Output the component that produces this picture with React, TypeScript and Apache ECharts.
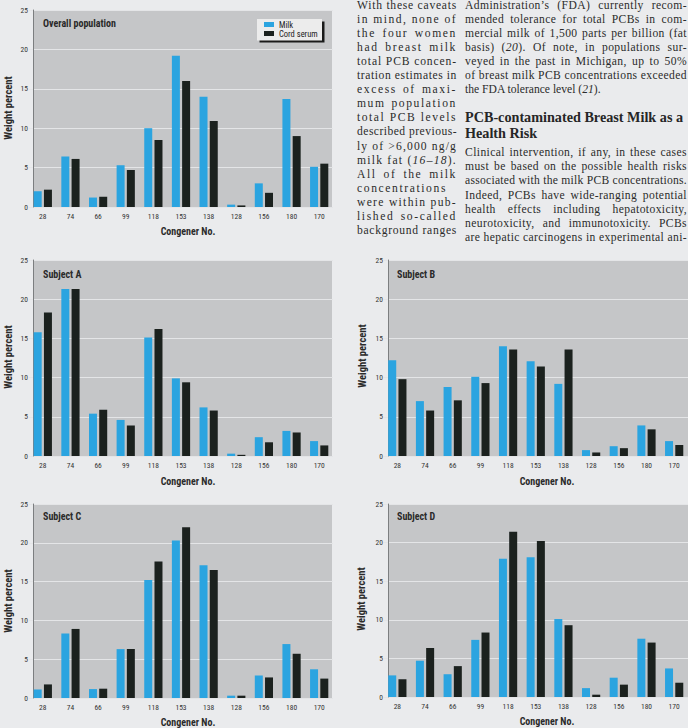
import React, { useEffect, useLayoutEffect, useRef } from "react";
import * as echarts from "echarts";

const categories = ["28", "74", "66", "99", "118", "153", "138", "128", "156", "180", "170"];
const overallMilk = [2.0, 6.4, 1.2, 5.3, 10.0, 19.2, 14.0, 0.3, 3.0, 13.7, 5.1];
const overallCord = [2.2, 6.1, 1.3, 4.7, 8.5, 16.0, 10.9, 0.2, 1.8, 9.0, 5.5];
const subjectAMilk = [15.8, 21.3, 5.4, 4.6, 15.1, 9.9, 6.2, 0.3, 2.4, 3.2, 1.9];
const subjectACord = [18.3, 21.3, 5.9, 3.9, 16.2, 9.4, 5.8, 0.15, 1.75, 3.0, 1.35];
const subjectBMilk = [12.2, 7.0, 8.8, 10.1, 14.0, 12.1, 9.2, 0.75, 1.25, 3.9, 1.9];
const subjectBCord = [9.8, 5.8, 7.1, 9.3, 13.6, 11.4, 13.6, 0.45, 1.0, 3.4, 1.4];
const subjectCMilk = [1.1, 8.3, 1.15, 6.3, 15.2, 20.3, 17.1, 0.3, 2.9, 6.95, 3.7];
const subjectCCord = [1.75, 8.9, 1.2, 6.3, 17.6, 22.0, 16.5, 0.3, 2.65, 5.7, 2.5];
const subjectDMilk = [2.8, 4.7, 2.95, 7.4, 17.9, 18.1, 10.1, 1.15, 2.5, 7.55, 3.7];
const subjectDCord = [2.3, 6.35, 4.0, 8.35, 21.4, 20.2, 9.3, 0.3, 1.6, 7.05, 1.85];

const panelTitles = ["Overall population", "Subject A", "Subject B", "Subject C", "Subject D"];
const milkSeries = [overallMilk, subjectAMilk, subjectBMilk, subjectCMilk, subjectDMilk];
const cordSeries = [overallCord, subjectACord, subjectBCord, subjectCCord, subjectDCord];
const seriesNames = ["Milk", "Cord serum"];
const yTicks = { min: 0, max: 25, interval: 5 };
const xTitle = "Congener No.";
const yTitle = "Weight percent";

// layout (positions only)
const panels = [
  { gl: 29, gw: 304, top: 10, h: 197, ax: 33, bgW: 299, xt: [188, 231], yt: [8, 108], tt: [43, 23] },
  { gl: 29, gw: 304, top: 260, h: 196, ax: 33, bgW: 299, xt: [188, 481], yt: [8, 357], tt: [43, 274] },
  { gl: 383.5, gw: 304.5, top: 260, h: 196, ax: 388, bgW: 300, xt: [547, 481], yt: [362, 356], tt: [397, 274] },
  { gl: 29, gw: 304, top: 504, h: 194, ax: 33, bgW: 299, xt: [188, 722], yt: [8, 601], tt: [43, 516] },
  { gl: 383.5, gw: 304.5, top: 504, h: 193, ax: 388, bgW: 300, xt: [547, 721], yt: [361, 599], tt: [397, 516] },
];

const col1Lines = [
  "With these caveats",
  "in mind, none of",
  "the four women",
  "had breast milk",
  "total PCB concen-",
  "tration estimates in",
  "excess of maxi-",
  "mum population",
  "total PCB levels",
  "described previous-",
  "ly of >6,000 ng/g",
  "milk fat (*16–18*).",
  "All of the milk",
  "concentrations",
  "were within pub-",
  "lished so-called",
  "background ranges",
];
const col2Para1 = [
  "Administration’s (FDA) currently recom-",
  "mended tolerance for total PCBs in com-",
  "mercial milk of 1,500 parts per billion (fat",
  "basis) (*20*). Of note, in populations sur-",
  "veyed in the past in Michigan, up to 50%",
  "of breast milk PCB concentrations exceeded",
  "the FDA tolerance level (*21*).",
];
const headingLines = ["PCB-contaminated Breast Milk as a", "Health Risk"];
const col2Para2 = [
  "Clinical intervention, if any, in these cases",
  "must be based on the possible health risks",
  "associated with the milk PCB concentrations.",
  "Indeed, PCBs have wide-ranging potential",
  "health effects including hepatotoxicity,",
  "neurotoxicity, and immunotoxicity. PCBs",
  "are hepatic carcinogens in experimental ani-",
];

const SANS = "'Liberation Sans Narrow', 'Roboto Condensed', 'DejaVu Sans Condensed', 'Arial Narrow', 'Liberation Sans', sans-serif";
const SERIF = "'Liberation Serif', 'DejaVu Serif', serif";
const BLUE = "#2ba4e0";
const BLACK = "#1b211e";
const PLOT_BG = "#c5c6c8";
const PAGE_BG = "#eaebed";

function renderSegments(s: string) {
  const parts = s.split("*");
  return parts.map((p, i) => (i % 2 === 1 ? <i key={i}>{p}</i> : <span key={i}>{p}</span>));
}

function Line(props: { text: string; left: number; width: number; baseline: number; justify: boolean; maxLs: number }) {
  const { text, left, width, baseline, justify, maxLs } = props;
  const divRef = useRef<HTMLDivElement>(null);
  const spanRef = useRef<HTMLSpanElement>(null);

  useLayoutEffect(() => {
    const d = divRef.current;
    const s = spanRef.current;
    if (!d || !s) return;
    d.style.textAlign = "left";
    (d.style as any).textAlignLast = "left";
    d.style.letterSpacing = "0px";
    const w = s.getBoundingClientRect().width;
    const n = text.replace(/\*/g, "").length;
    let ls = 0;
    if (justify) {
      ls = (width - w) / n;
      if (ls > maxLs) ls = maxLs;
      if (ls < -0.8) ls = -0.8;
    } else if (w > width) {
      ls = (width - w) / n;
    }
    d.style.letterSpacing = ls.toFixed(3) + "px";
    d.style.textAlign = justify ? "justify" : "left";
    (d.style as any).textAlignLast = justify ? "justify" : "left";
  }, [text, width, justify, maxLs]);

  return (
    <div
      ref={divRef}
      style={{
        position: "absolute",
        left,
        width,
        top: baseline - 10.8,
        height: 14,
        lineHeight: "14px",
        fontSize: 11.6,
        fontFamily: SERIF,
        color: "#2b2b2b",
        whiteSpace: "nowrap",
        textAlign: justify ? "justify" : "left",
        textAlignLast: justify ? "justify" : "left",
      } as any}
    >
      <span ref={spanRef}>{renderSegments(text)}</span>
    </div>
  );
}

export default function App() {
  const ref = useRef<HTMLDivElement>(null);

  useEffect(() => {
    document.body.style.margin = "0";
    if (!ref.current) return;
    const chart = echarts.init(ref.current, undefined, { renderer: "svg" });

    const grids: any[] = [];
    const xAxes: any[] = [];
    const yAxes: any[] = [];
    const series: any[] = [];
    const graphics: any[] = [];

    panels.forEach((p, i) => {
      grids.push({ left: p.gl, top: p.top, width: p.gw, height: p.h, containLabel: false, show: false });
      xAxes.push({
        type: "category",
        gridIndex: i,
        data: categories,
        axisLine: { show: false },
        axisTick: { show: false },
        axisLabel: { fontSize: 7.5, color: "#333", fontFamily: SANS, margin: 5, interval: 0 },
      });
      yAxes.push({
        type: "value",
        gridIndex: i,
        min: yTicks.min,
        max: yTicks.max,
        interval: yTicks.interval,
        offset: -(p.ax - p.gl),
        axisLine: { show: true, lineStyle: { color: "#7c7e80", width: 1 } },
        axisTick: { show: false },
        axisLabel: { fontSize: 7.5, color: "#333", fontFamily: SANS, margin: 5 },
        splitLine: { show: true, lineStyle: { color: "#e4e5e7", width: 1 } },
      });
      series.push({
        type: "bar",
        name: seriesNames[0],
        xAxisIndex: i,
        yAxisIndex: i,
        data: milkSeries[i],
        barWidth: 8,
        barGap: "28%",
        itemStyle: { color: BLUE },
        z: 3,
      });
      series.push({
        type: "bar",
        name: seriesNames[1],
        xAxisIndex: i,
        yAxisIndex: i,
        data: cordSeries[i],
        barWidth: 8,
        barGap: "28%",
        itemStyle: { color: BLACK },
        z: 3,
      });
      graphics.push({
        type: "rect",
        shape: { x: p.ax, y: p.top, width: p.bgW, height: p.h },
        style: { fill: PLOT_BG },
        z: -10,
        silent: true,
      });
      graphics.push({
        type: "text",
        x: p.tt[0],
        y: p.tt[1],
        style: { text: panelTitles[i], fill: "#2a2a2a", fontSize: 10, fontWeight: "bold", fontFamily: SANS, align: "left", verticalAlign: "middle" },
        z: 5,
      });
      graphics.push({
        type: "text",
        x: p.xt[0],
        y: p.xt[1],
        style: { text: xTitle, fill: "#2a2a2a", fontSize: 10, fontWeight: "bold", fontFamily: SANS, align: "center", verticalAlign: "middle" },
        z: 5,
      });
      graphics.push({
        type: "text",
        x: p.yt[0],
        y: p.yt[1],
        rotation: Math.PI / 2,
        style: { text: yTitle, fill: "#2a2a2a", fontSize: 10.5, fontWeight: "bold", fontFamily: SANS, align: "center", verticalAlign: "middle" },
        z: 5,
      });
    });

    // legend box with shadow
    graphics.push({ type: "rect", shape: { x: 259.5, y: 21.5, width: 65, height: 21 }, style: { fill: "#1a1a1a" }, z: 6 });
    graphics.push({ type: "rect", shape: { x: 257, y: 19, width: 65, height: 21.5 }, style: { fill: "#ececec" }, z: 7 });

    chart.setOption({
      animation: false,
      backgroundColor: "transparent",
      grid: grids,
      xAxis: xAxes,
      yAxis: yAxes,
      series,
      graphic: graphics,
      legend: {
        data: seriesNames,
        left: 264,
        top: 20,
        orient: "vertical",
        itemWidth: 10,
        itemHeight: 5,
        itemGap: 0,
        icon: "rect",
        selectedMode: false,
        padding: 0,
        z: 20,
        textStyle: { fontSize: 8.5, lineHeight: 9, color: "#222", fontFamily: SANS },
      },
    });

    return () => chart.dispose();
  }, []);

  const col1Left = 357;
  const col1Width = 100;
  const col2Left = 465;
  const col2Width = 222;
  const base0 = 9.3;
  const step = 14.1;

  return (
    <div style={{ position: "absolute", left: 0, top: 0, width: 688, height: 728, background: PAGE_BG, overflow: "hidden" }}>
      <div ref={ref} style={{ position: "absolute", left: 0, top: 0, width: 688, height: 728 }} />
      {col1Lines.map((t, i) => (
        <Line key={"c1" + i} text={t} left={col1Left} width={col1Width} baseline={base0 + step * i} justify={true} maxLs={1.6} />
      ))}
      {col2Para1.map((t, i) => (
        <Line key={"c2a" + i} text={t} left={col2Left} width={col2Width} baseline={base0 + step * i} justify={i < col2Para1.length - 1} maxLs={0.4} />
      ))}
      {headingLines.map((t, i) => (
        <div
          key={"h" + i}
          style={{
            position: "absolute",
            left: col2Left,
            top: 122 + 16 * i - 12.8,
            height: 16,
            lineHeight: "16px",
            fontSize: 14.2,
            fontWeight: "bold",
            fontFamily: SERIF,
            color: "#262626",
            whiteSpace: "nowrap",
          }}
        >
          {t}
        </div>
      ))}
      {col2Para2.map((t, i) => (
        <Line key={"c2b" + i} text={t} left={col2Left} width={col2Width} baseline={157 + step * i} justify={true} maxLs={0.4} />
      ))}
    </div>
  );
}
